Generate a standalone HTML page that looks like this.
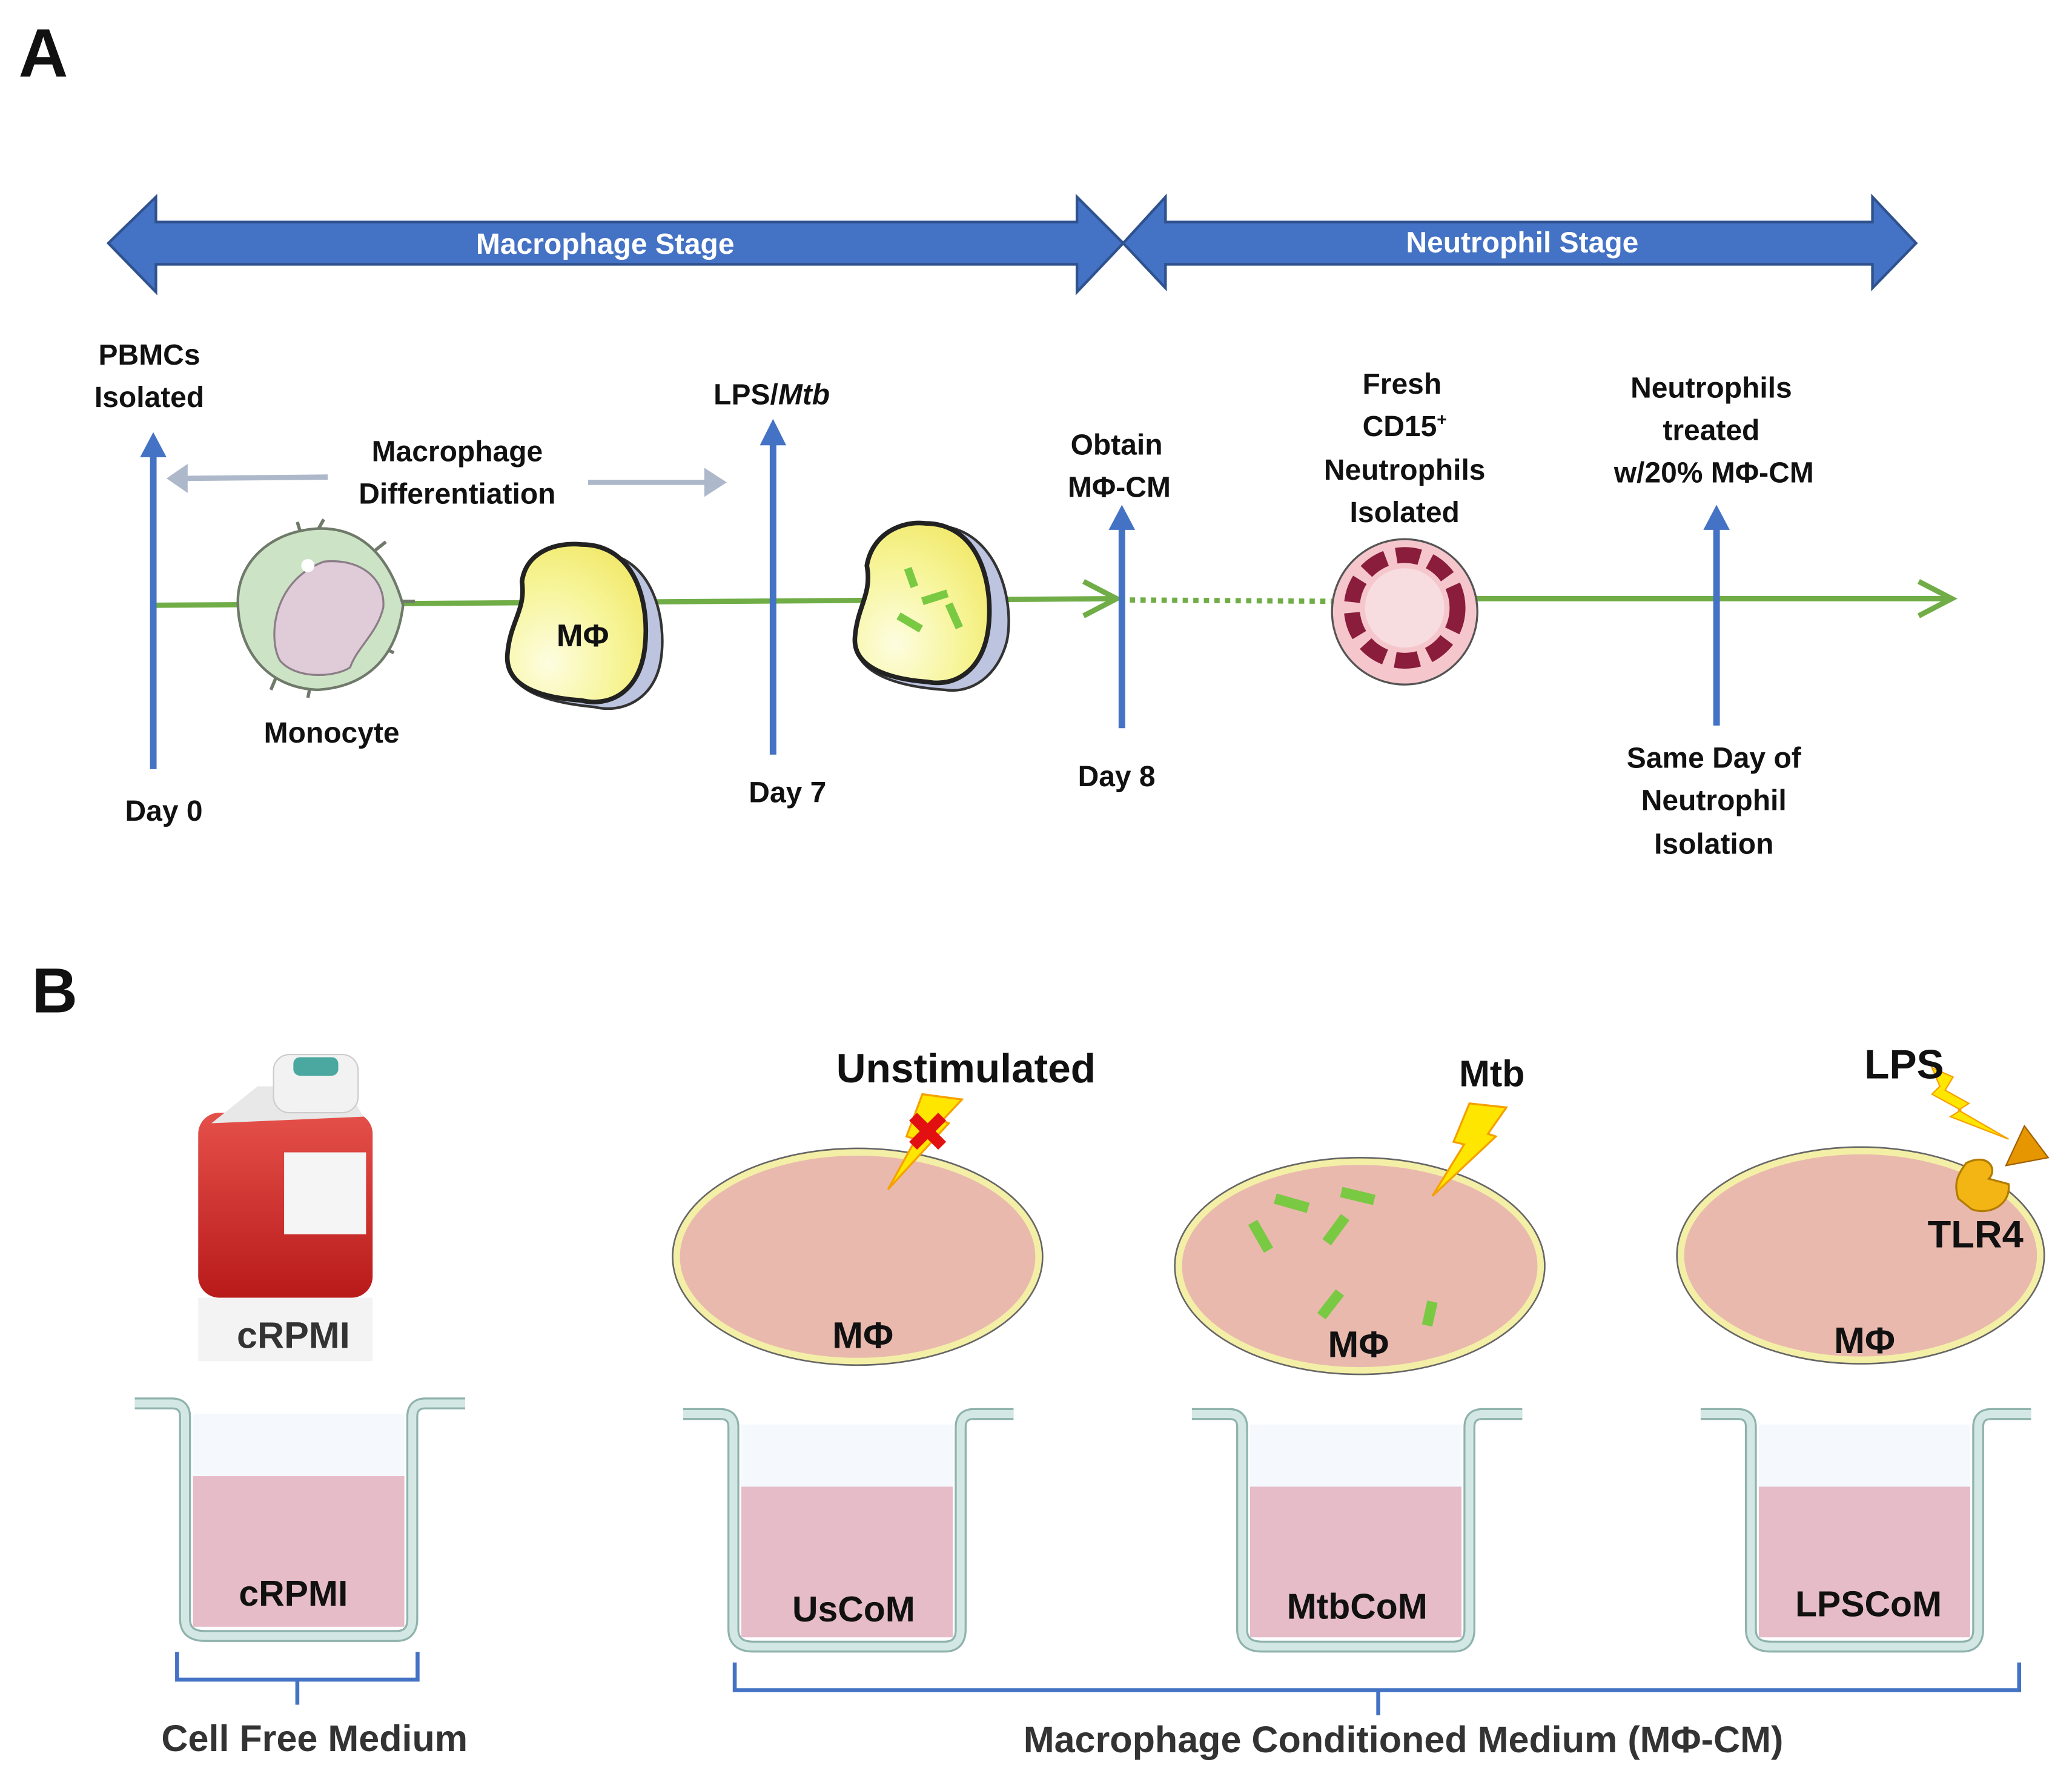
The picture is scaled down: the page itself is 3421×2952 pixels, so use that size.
<!DOCTYPE html>
<html><head><meta charset="utf-8"><style>
html,body{margin:0;padding:0;background:#fff}
svg{display:block}
text{font-family:"Liberation Sans",sans-serif;font-weight:bold;fill:#111}
</style></head><body>
<svg width="3421" height="2952" viewBox="0 0 1568 1353" xmlns="http://www.w3.org/2000/svg">
<defs>
<radialGradient id="yel" cx="0.3" cy="0.75" r="0.8"><stop offset="0" stop-color="#fdfde0"/><stop offset="0.6" stop-color="#f7f59a"/><stop offset="1" stop-color="#f2ea70"/></radialGradient>
<linearGradient id="bot" x1="0" y1="0" x2="0" y2="1"><stop offset="0" stop-color="#e5504a"/><stop offset="1" stop-color="#b81a1a"/></linearGradient>
</defs>
<rect width="1568" height="1353" fill="#fff"/>
<text x="14" y="58" font-size="52" font-family="Liberation Sans">A</text>
<text x="24" y="766" font-size="48">B</text>

<polygon points="82,184 118,149 118,168 815,168 815,149 850,184 815,221 815,200 118,200 118,221" fill="#4472c4" stroke="#2f528f" stroke-width="2"/>
<polygon points="850,184 882,149 882,168 1417,168 1417,149 1450,184 1417,218 1417,200 882,200 882,218" fill="#4472c4" stroke="#2f528f" stroke-width="2"/>
<text x="458" y="192" font-size="22" text-anchor="middle" style="fill:#fff">Macrophage Stage</text>
<text x="1152" y="191" font-size="22" text-anchor="middle" style="fill:#fff">Neutrophil Stage</text>

<polyline points="118,458 845,453" stroke="#70ad47" stroke-width="4" fill="none"/>
<polyline points="820,440 845,453 820,466" stroke="#70ad47" stroke-width="4" fill="none"/>
<line x1="855" y1="454" x2="1008" y2="455" stroke="#70ad47" stroke-width="4" stroke-dasharray="4,4"/>
<line x1="1110" y1="453" x2="1476" y2="453" stroke="#70ad47" stroke-width="4"/>
<polyline points="1452,440 1477,453 1452,466" stroke="#70ad47" stroke-width="4" fill="none"/>

<g fill="#4472c4" stroke="#4472c4">
<line x1="116" y1="582" x2="116" y2="340" stroke-width="5"/><polygon points="106,346 116,327 126,346" stroke="none"/>
<line x1="585" y1="571" x2="585" y2="330" stroke-width="5"/><polygon points="575,337 585,317 595,337" stroke="none"/>
<line x1="849" y1="551" x2="849" y2="394" stroke-width="5"/><polygon points="839,401 849,382 859,401" stroke="none"/>
<line x1="1299" y1="549" x2="1299" y2="394" stroke-width="5"/><polygon points="1289,401 1299,382 1309,401" stroke="none"/>
</g>
<g fill="#adb9ca" stroke="#adb9ca">
<line x1="248" y1="361" x2="140" y2="362" stroke-width="4"/><polygon points="142,351 126,362 142,373" stroke="none"/>
<line x1="445" y1="365" x2="535" y2="365" stroke-width="4"/><polygon points="533,354 550,365 533,376" stroke="none"/>
</g>

<g>
<g stroke="#6f7a6a" stroke-width="2.5" fill="none">
<path d="M228,405 L225,395 M240,402 L245,393 M282,418 L292,410 M300,455 L314,455 M290,490 L298,494 M235,518 L233,528 M210,510 L205,522"/>
</g>
<path d="M240,400 C285,398 300,440 305,458 C300,500 275,520 240,522 C200,520 180,490 180,455 C180,425 205,402 240,400 Z" fill="#cde3c6" stroke="#6f7a6a" stroke-width="2"/>
<path d="M245,425 C275,422 292,440 290,460 C285,480 270,490 265,505 C255,512 225,515 212,500 C203,485 205,440 245,425 Z" fill="#e0ccd8" stroke="#8b7d86" stroke-width="1.5"/>
<circle cx="233" cy="428" r="5" fill="#fff"/>
<path d="M452,418 C495,420 505,470 500,500 C495,530 470,540 450,535 C420,532 382,525 384,495 C386,470 398,465 395,440 C398,420 430,412 452,418 Z" fill="#bcc4e0" stroke="#333" stroke-width="2"/>
<path d="M440,412 C480,412 492,455 488,490 C484,525 460,535 440,530 C410,528 382,520 384,495 C386,470 398,462 395,440 C398,418 420,410 440,412 Z" fill="url(#yel)" stroke="#222" stroke-width="3.5"/>
<text x="441" y="489" font-size="24" text-anchor="middle">MΦ</text>
<path d="M712,398 C755,402 768,455 762,485 C755,512 735,525 715,522 C685,520 645,512 647,482 C649,460 660,452 656,428 C660,405 690,395 712,398 Z" fill="#bcc4e0" stroke="#333" stroke-width="2"/>
<path d="M700,396 C740,396 752,440 748,475 C744,508 722,520 702,516 C675,514 645,506 647,482 C649,458 660,450 656,428 C660,404 682,394 700,396 Z" fill="url(#yel)" stroke="#222" stroke-width="3.5"/>
<g stroke="#7ac943" stroke-width="6" stroke-linecap="butt">
<line x1="687" y1="430" x2="692" y2="444"/><line x1="698" y1="455" x2="717" y2="449"/>
<line x1="718" y1="457" x2="726" y2="475"/><line x1="680" y1="466" x2="697" y2="476"/></g>
<circle cx="1063" cy="463" r="55" fill="#f5c7cc" stroke="#555" stroke-width="1.5"/>
<circle cx="1063" cy="460" r="40" fill="none" stroke="#8a1d3b" stroke-width="12" stroke-dasharray="18,8"/>
<circle cx="1063" cy="460" r="30" fill="#f7dde0"/>
</g>

<g font-size="22" text-anchor="middle">
<text x="113" y="276">PBMCs</text><text x="113" y="308">Isolated</text>
<text x="346" y="349">Macrophage</text><text x="346" y="381">Differentiation</text>
<text x="584" y="306">LPS/<tspan font-style="italic">Mtb</tspan></text>
<text x="845" y="344">Obtain</text><text x="847" y="376">MΦ-CM</text>
<text x="1061" y="298">Fresh</text><text x="1063" y="330">CD15<tspan font-size="13" dy="-8">+</tspan></text>
<text x="1063" y="363">Neutrophils</text><text x="1063" y="395">Isolated</text>
<text x="1295" y="301">Neutrophils</text><text x="1295" y="333">treated</text><text x="1297" y="365">w/20% MΦ-CM</text>
<text x="251" y="562">Monocyte</text>
<text x="124" y="621">Day 0</text><text x="596" y="607">Day 7</text><text x="845" y="595">Day 8</text>
<text x="1297" y="581">Same Day of</text><text x="1297" y="613">Neutrophil</text><text x="1297" y="646">Isolation</text>
</g>

<rect x="150" y="842" width="132" height="140" rx="16" fill="url(#bot)"/>
<path d="M160,850 L195,822 L262,822 L275,845 Z" fill="#e8e8e8"/>
<rect x="207" y="798" width="64" height="44" rx="12" fill="#f2f2f2" stroke="#ccc"/>
<rect x="222" y="800" width="34" height="14" rx="5" fill="#4aa8a0"/>
<rect x="215" y="872" width="62" height="62" fill="#f5f5f5"/>
<rect x="150" y="982" width="132" height="48" fill="#f0f0f0" opacity="0.8"/>
<text x="222" y="1020" font-size="28" text-anchor="middle" style="fill:#333">cRPMI</text>

<g id="w">
<path d="M102,1062 L130,1062 Q140,1062 140,1072 L140,1225 Q140,1238 155,1238 L300,1238 Q312,1238 312,1225 L312,1072 Q312,1062 322,1062 L352,1062" fill="none" stroke="#8fb2ac" stroke-width="9" stroke-linejoin="round"/>
<path d="M102,1062 L130,1062 Q140,1062 140,1072 L140,1225 Q140,1238 155,1238 L300,1238 Q312,1238 312,1225 L312,1072 Q312,1062 322,1062 L352,1062" fill="none" stroke="#d3e8e4" stroke-width="6" stroke-linejoin="round"/>
<rect x="146" y="1070" width="160" height="48" fill="#f5f8fc"/>
<rect x="146" y="1117" width="160" height="114" fill="#e6bcc9"/>
</g>
<use href="#w" x="415" y="8"/>
<use href="#w" x="800" y="8"/>
<use href="#w" x="1185" y="8"/>
<g font-size="27" text-anchor="middle">
<text x="222" y="1215">cRPMI</text><text x="646" y="1227">UsCoM</text>
<text x="1027" y="1225">MtbCoM</text><text x="1414" y="1223">LPSCoM</text>
</g>

<g fill="#e9b9ae" stroke="#f4efa6" stroke-width="5">
<ellipse cx="649" cy="951" rx="137" ry="79"/><ellipse cx="1029" cy="958" rx="137" ry="79"/><ellipse cx="1408" cy="950" rx="136" ry="79"/>
</g>
<g fill="none" stroke="#666" stroke-width="1.2">
<ellipse cx="649" cy="951" rx="140" ry="82"/><ellipse cx="1029" cy="958" rx="140" ry="82"/><ellipse cx="1408" cy="950" rx="139" ry="82"/>
</g>
<g stroke="#7ac943" stroke-width="8">
<line x1="965" y1="907" x2="990" y2="914"/><line x1="1015" y1="902" x2="1040" y2="908"/>
<line x1="948" y1="925" x2="960" y2="946"/><line x1="1018" y1="921" x2="1004" y2="940"/>
<line x1="1014" y1="978" x2="1000" y2="996"/><line x1="1084" y1="985" x2="1080" y2="1003"/>
</g>
<polygon points="698,828 728,832 713,848 718,850 672,900 693,862 686,860" fill="#ffe600" stroke="#f5a000" stroke-width="1.5"/>
<path d="M688,848 L694,842 L702,850 L710,842 L716,848 L708,856 L716,864 L710,870 L702,862 L694,870 L688,864 L696,856 Z" fill="#e21010"/>
<polygon points="1112,835 1140,838 1126,858 1132,860 1084,905 1108,866 1100,864" fill="#ffe600" stroke="#f5a000" stroke-width="1.5"/>
<polygon points="1462,808 1478,815 1472,825 1490,835 1482,840 1520,862 1476,845 1484,840 1462,828 1468,822" fill="#ffe600" stroke="#f5a000" stroke-width="1"/>
<polygon points="1532,852 1550,876 1518,882" fill="#e59600" stroke="#a06000"/>
<path d="M1488,880 C1505,872 1512,885 1505,892 L1520,896 C1522,912 1505,920 1492,915 L1482,907 C1478,895 1482,888 1488,880 Z" fill="#f2b514" stroke="#b37b00" stroke-width="1.5"/>
<g font-size="31" text-anchor="middle">
<text x="731" y="819">Unstimulated</text><text x="1129" y="822" font-size="28">Mtb</text>
<text x="1441" y="816">LPS</text><text x="1495" y="944" font-size="29">TLR4</text>
</g>
<g font-size="28" text-anchor="middle">
<text x="653" y="1020">MΦ</text><text x="1028" y="1027">MΦ</text><text x="1411" y="1024">MΦ</text>
</g>

<g fill="none" stroke="#4472c4" stroke-width="3">
<path d="M134,1250 L134,1271 L225,1271 L225,1290 M225,1271 L316,1271 L316,1250"/>
<path d="M556,1258 L556,1279 L1043,1279 L1043,1298 M1043,1279 L1528,1279 L1528,1258"/>
</g>
<g font-size="28" text-anchor="middle">
<text x="238" y="1325" style="fill:#333">Cell Free Medium</text>
<text x="1062" y="1326" style="fill:#333">Macrophage Conditioned Medium (MΦ-CM)</text>
</g>
</svg>
</body></html>
